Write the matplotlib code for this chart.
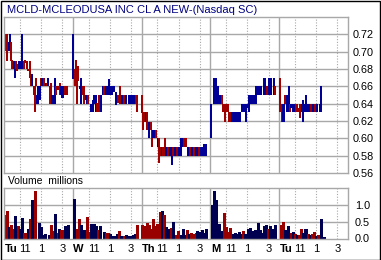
import matplotlib
matplotlib.use("Agg")
import matplotlib.pyplot as plt
import matplotlib.transforms as mtransforms
from matplotlib.patches import Rectangle

plt.rcParams['font.family'] = ['Liberation Sans', 'DejaVu Sans']

TITLE = "MCLD-MCLEODUSA INC CL A NEW-(Nasdaq SC)"

# time axis = trading hours since Tuesday open (6.5 h per day)
DAY_LEN = 6.5
DAYS = ["Tu", "W", "Th", "M", "Tu"]
HOUR_LABELS = ["11", "1", "3"]
HOUR_POS = [1.5, 3.5, 5.5]

# price bars: time, high, low, up (1 = blue, 0 = red)
p_time = [0.03, 0.13, 0.25, 0.32, 0.47, 0.57, 0.69, 0.79, 0.95, 1.04, 1.13, 1.26, 1.42, 1.58, 1.73,
          1.89, 1.98, 2.14, 2.27, 2.46, 2.58, 2.68, 2.84, 2.93, 3.06, 3.15, 3.25, 3.37, 3.47, 3.56,
          3.69, 3.78, 3.94, 4.03, 4.19, 4.32, 4.41, 4.51, 4.63, 4.73, 4.82, 4.95, 5.14, 5.26, 5.36,
          5.51, 5.61, 5.73, 5.83, 5.99,
          6.52, 6.71, 6.84, 6.93, 7.03, 7.18, 7.31, 7.47, 7.56, 7.72, 7.81, 7.97,
          8.21, 8.38, 8.54, 8.67, 8.82, 8.95, 9.08, 9.17, 9.39, 9.48, 9.61, 9.86, 9.96, 10.11,
          10.24, 10.40, 10.56, 10.81, 10.93, 11.06, 11.19, 11.38, 11.50, 11.82, 11.91, 12.07,
          12.16, 12.29, 12.45, 12.60,
          13.05, 13.11, 13.23, 13.39, 13.49, 13.64, 13.74, 13.86, 13.96, 14.12, 14.21, 14.37,
          14.53, 14.65, 14.75, 14.90, 15.00, 15.22, 15.31, 15.47, 15.60, 15.69, 15.85, 15.94,
          16.10, 16.20, 16.32, 16.57, 16.73, 16.89, 17.05, 17.21, 17.43, 17.58, 17.74, 17.90,
          17.99, 18.15, 18.31, 18.47, 18.62, 18.78, 18.94, 19.06,
          19.52, 19.60, 19.85, 20.04, 20.10, 20.26, 20.42, 20.58, 20.70, 20.86, 20.99, 21.14,
          21.30, 21.40, 21.52, 21.68, 21.84, 22.00, 22.12, 22.28, 22.47, 22.56, 22.72, 22.88,
          23.00, 23.13, 23.29, 23.41, 23.57, 23.70, 23.82, 23.98, 24.14, 24.29, 24.55, 24.70,
          24.86, 25.02, 25.24, 25.49, 25.59,
          26.05, 26.12, 26.25, 26.34, 26.50, 26.59, 26.72, 26.88, 27.03, 27.13, 27.29, 27.44,
          27.54, 27.66, 27.82, 27.92, 28.01, 28.14, 28.23, 28.39, 28.49, 28.64, 28.77, 28.86,
          29.02, 29.18, 29.34, 29.49, 29.59, 29.81, 29.97]
p_high = [0.740, 0.7205, 0.7205, 0.701, 0.711, 0.7205, 0.711, 0.690, 0.689, 0.689, 0.689, 0.6855, 0.689, 0.689, 0.7205,
          0.689, 0.690, 0.689, 0.680, 0.689, 0.670, 0.674, 0.660, 0.660, 0.670, 0.6505, 0.660, 0.660, 0.670, 0.670,
          0.670, 0.670, 0.664, 0.664, 0.670, 0.660, 0.664, 0.6505, 0.6505, 0.6505, 0.670, 0.660, 0.660, 0.664, 0.660,
          0.660, 0.660, 0.660, 0.660, 0.660,
          0.7205, 0.680, 0.690, 0.680, 0.6836, 0.660, 0.670, 0.660, 0.660, 0.6505, 0.6505, 0.6505,
          0.640, 0.6447, 0.6505, 0.6505, 0.641, 0.6505, 0.640, 0.6505, 0.660, 0.660, 0.660, 0.660, 0.669, 0.660,
          0.660, 0.660, 0.654, 0.6505, 0.660, 0.6505, 0.6505, 0.6505, 0.6505, 0.6505, 0.6505, 0.6505,
          0.6505, 0.6505, 0.6505, 0.6505,
          0.6505, 0.630, 0.630, 0.630, 0.630, 0.619, 0.619, 0.619, 0.610, 0.610, 0.610, 0.610,
          0.600, 0.600, 0.590, 0.590, 0.590, 0.600, 0.590, 0.590, 0.590, 0.590, 0.590, 0.590,
          0.590, 0.590, 0.590, 0.590, 0.600, 0.600, 0.600, 0.600, 0.590, 0.590, 0.590, 0.590,
          0.590, 0.590, 0.590, 0.590, 0.590, 0.590, 0.594, 0.594,
          0.640, 0.640, 0.670, 0.670, 0.6505, 0.660, 0.6505, 0.6505, 0.640, 0.640, 0.640, 0.640,
          0.630, 0.630, 0.630, 0.630, 0.630, 0.630, 0.630, 0.630, 0.640, 0.640, 0.640, 0.640,
          0.640, 0.6505, 0.6505, 0.6505, 0.6505, 0.6505, 0.660, 0.660, 0.660, 0.660, 0.670, 0.670,
          0.660, 0.670, 0.670, 0.670, 0.660,
          0.670, 0.6505, 0.640, 0.640, 0.640, 0.6505, 0.6505, 0.660, 0.640, 0.640, 0.640, 0.640,
          0.640, 0.640, 0.635, 0.640, 0.635, 0.640, 0.6447, 0.640, 0.6505, 0.640, 0.640, 0.640,
          0.640, 0.640, 0.640, 0.635, 0.640, 0.640, 0.660]
p_low = [0.7205, 0.701, 0.689, 0.689, 0.701, 0.701, 0.689, 0.680, 0.680, 0.670, 0.680, 0.678, 0.680, 0.680, 0.680,
         0.680, 0.6875, 0.680, 0.678, 0.670, 0.660, 0.660, 0.6505, 0.630, 0.660, 0.640, 0.640, 0.6447, 0.660, 0.660,
         0.660, 0.660, 0.660, 0.660, 0.660, 0.640, 0.640, 0.640, 0.640, 0.640, 0.640, 0.6505, 0.656, 0.6505, 0.6505,
         0.6466, 0.6466, 0.6505, 0.6505, 0.6505,
         0.669, 0.660, 0.678, 0.640, 0.666, 0.6575, 0.640, 0.6505, 0.640, 0.6447, 0.640, 0.640,
         0.630, 0.630, 0.640, 0.630, 0.630, 0.630, 0.630, 0.630, 0.6505, 0.6505, 0.6505, 0.6505, 0.6505, 0.6505,
         0.6505, 0.654, 0.639, 0.641, 0.640, 0.640, 0.640, 0.640, 0.640, 0.640, 0.640, 0.640,
         0.640, 0.640, 0.640, 0.630,
         0.629, 0.610, 0.619, 0.619, 0.610, 0.610, 0.600, 0.610, 0.590, 0.600, 0.600, 0.600,
         0.590, 0.571, 0.580, 0.580, 0.580, 0.580, 0.580, 0.580, 0.580, 0.580, 0.569, 0.580,
         0.580, 0.580, 0.580, 0.580, 0.580, 0.590, 0.590, 0.590, 0.580, 0.580, 0.580, 0.580,
         0.580, 0.580, 0.580, 0.580, 0.580, 0.580, 0.580, 0.580,
         0.600, 0.619, 0.640, 0.640, 0.640, 0.640, 0.640, 0.640, 0.630, 0.619, 0.630, 0.630,
         0.619, 0.619, 0.619, 0.619, 0.619, 0.619, 0.619, 0.619, 0.630, 0.630, 0.630, 0.619,
         0.635, 0.630, 0.640, 0.640, 0.640, 0.640, 0.640, 0.6505, 0.6505, 0.6505, 0.6505, 0.6505,
         0.6505, 0.6505, 0.6505, 0.6505, 0.6505,
         0.640, 0.630, 0.619, 0.619, 0.619, 0.640, 0.630, 0.630, 0.630, 0.635, 0.630, 0.630,
         0.630, 0.630, 0.630, 0.623, 0.630, 0.630, 0.619, 0.630, 0.630, 0.630, 0.630, 0.630,
         0.630, 0.630, 0.630, 0.630, 0.630, 0.630, 0.630]
p_up = [0, 0, 0, 0, 1, 1, 0, 0, 1, 1, 0, 0, 1, 1, 1,
        0, 0, 0, 0, 0, 0, 1, 0, 0, 0, 1, 1, 1, 0, 1,
        1, 0, 1, 0, 1, 0, 0, 1, 1, 1, 1, 0, 0, 0, 1,
        1, 1, 0, 0, 0,
        1, 0, 0, 0, 0, 1, 1, 0, 0, 1, 1, 0,
        1, 1, 1, 1, 0, 0, 0, 1, 1, 0, 1, 1, 1, 1,
        1, 1, 1, 0, 0, 0, 1, 0, 1, 1, 1, 1,
        1, 1, 0, 0,
        0, 0, 0, 1, 0, 0, 1, 0, 0, 1, 1, 0,
        1, 0, 0, 1, 0, 0, 1, 0, 0, 1, 1, 0,
        0, 1, 0, 1, 1, 1, 0, 0, 1, 0, 1, 1,
        0, 1, 1, 0, 1, 1, 1, 1,
        1, 1, 1, 1, 1, 1, 1, 0, 0, 0, 0, 0,
        0, 0, 1, 1, 1, 1, 1, 1, 1, 1, 1, 1,
        1, 1, 1, 1, 1, 1, 1, 1, 1, 1, 1, 1,
        0, 1, 1, 1, 0,
        0, 0, 0, 1, 1, 0, 1, 1, 0, 1, 1, 1,
        0, 0, 0, 0, 0, 1, 1, 1, 1, 1, 0, 1,
        0, 1, 0, 0, 1, 1, 1]

# volume bars (millions)
v_time = [0.09, 0.28, 0.47, 0.66, 0.89, 1.07, 1.30, 1.52, 1.71, 1.93, 2.09, 2.31, 2.50, 2.69, 2.94,
          3.29, 3.45, 3.73, 3.89, 4.21, 4.40, 4.65, 4.84, 5.06, 5.22, 5.38, 5.57, 5.72, 6.07,
          6.58, 6.86, 7.05, 7.31, 7.53, 7.81, 8.00, 8.25, 8.48, 8.70, 8.89, 9.11, 9.49, 9.68,
          9.83, 10.02, 10.21, 10.40, 10.63, 10.85, 11.07, 11.35, 11.48, 11.67, 11.83, 12.02,
          12.18, 12.37, 12.59,
          13.06, 13.22, 13.47, 13.66, 13.88, 14.07, 14.23, 14.48, 14.71, 14.93, 15.08, 15.34,
          15.59, 15.78, 15.94, 16.22, 16.41, 16.70, 16.92, 17.14, 17.33, 17.52, 17.65, 17.90,
          18.12, 18.28, 18.50, 18.69, 18.91, 19.07,
          19.61, 19.80, 20.02, 20.34, 20.56, 20.81, 21.00, 21.22, 21.38, 21.63, 21.79, 22.01,
          22.17, 22.33, 22.62, 22.80, 23.03, 23.22, 23.41, 23.60, 23.75, 23.98, 24.20, 24.35,
          24.54, 24.77, 24.92, 25.11, 25.33, 25.56,
          26.13, 26.32, 26.51, 26.70, 26.85, 27.07, 27.26, 27.45, 27.64, 27.83, 28.02, 28.21,
          28.40, 28.56, 28.75, 28.91, 29.10, 29.29, 29.51, 29.70, 29.98, 30.21]
v_vol = [0.70, 0.82, 0.35, 0.40, 0.28, 0.67, 0.38, 0.28, 0.62, 0.17, 0.15, 0.28, 0.58, 1.13, 1.40,
         0.47, 0.35, 0.10, 0.13, 0.10, 0.40, 0.23, 0.73, 0.15, 0.28, 0.25, 0.25, 0.38, 0.40,
         1.18, 0.29, 0.58, 0.40, 0.25, 0.63, 0.20, 0.42, 0.42, 0.38, 0.25, 0.38, 0.18, 0.15,
         0.16, 0.13, 0.07, 0.08, 0.13, 0.23, 0.06, 0.08, 0.10, 0.07, 0.07, 0.07,
         0.10, 0.12, 0.40,
         0.40, 0.37, 0.47, 0.40, 0.28, 0.57, 0.38, 0.43, 0.78, 0.82, 0.70, 0.35,
         0.27, 0.30, 0.50, 0.10, 0.23, 0.10, 0.28, 0.10, 0.25, 0.13, 0.15, 0.13,
         0.15, 0.23, 0.20, 0.25, 0.15, 0.28,
         1.00, 1.40, 1.15, 0.43, 0.23, 0.77, 0.35, 0.18, 0.30, 0.13, 0.15, 0.13,
         0.20, 0.12, 0.22, 0.13, 0.27, 0.30, 0.22, 0.13, 0.25, 0.47, 0.25, 0.15,
         0.37, 0.40, 0.28, 0.37, 0.28, 0.40,
         0.40, 0.50, 0.25, 0.20, 0.37, 0.15, 0.20, 0.12, 0.10, 0.10, 0.28, 0.17,
         0.27, 0.28, 0.13, 0.10, 0.12, 0.20, 0.08, 0.10, 0.58, 0.05]
v_up = [0, 0, 1, 0, 0, 1, 0, 1, 1, 0, 0, 1, 0, 1, 0,
        1, 1, 1, 1, 1, 0, 0, 1, 0, 1, 0, 0, 1, 1,
        1, 0, 0, 1, 1, 0, 0, 1, 1, 1, 0, 1, 1, 0,
        0, 1, 1, 1, 1, 0, 1, 0, 1, 1, 1, 1,
        1, 1, 0,
        0, 0, 0, 0, 0, 0, 0, 0, 0, 1, 0, 1,
        1, 0, 1, 0, 0, 1, 1, 1, 0, 1, 0, 0,
        0, 1, 1, 1, 1, 1,
        1, 1, 1, 1, 1, 0, 0, 0, 0, 1, 1, 1,
        1, 1, 0, 1, 1, 1, 1, 1, 1, 1, 1, 1,
        1, 1, 0, 1, 1, 1,
        0, 0, 1, 1, 1, 0, 1, 0, 1, 0, 0, 1,
        1, 1, 0, 1, 0, 0, 1, 0, 1, 1]

RED = '#a00000'
BLUE = '#000096'
VBLUE = '#000050'
VRED = '#990000'
GRID = '#a8a8a8'

W, H = 381, 260
fig = plt.figure(figsize=(W / 100, H / 100), dpi=100)
ax = fig.add_axes([4 / W, 1 - 173 / H, 344 / W, 156 / H])
axv = fig.add_axes([4 / W, 1 - 238.5 / H, 344 / W, 50.5 / H])

ndays = len(DAYS)
for a in (ax, axv):
    a.set_xlim(0, ndays * DAY_LEN)
    a.set_xticks([])
    for d in range(1, ndays):
        a.axvline(d * DAY_LEN, color=GRID, lw=1.0, zorder=0)
    for d in range(ndays):
        for h in HOUR_POS:
            a.axvline(d * DAY_LEN + h, color=GRID, lw=0.8, ls=(0, (1, 1.5)), zorder=0)
    for s in a.spines.values():
        s.set_color(GRID)
        s.set_linewidth(1.0)
    a.yaxis.tick_right()
    a.tick_params(axis='y', length=0, labelsize=7.8, pad=3)

# price panel
ax.set_ylim(0.56, 0.74)
price_ticks = [0.56, 0.58, 0.60, 0.62, 0.64, 0.66, 0.68, 0.70, 0.72]
ax.set_yticks(price_ticks)
ax.set_yticklabels(["%.2f" % v for v in price_ticks])
for v in price_ticks[1:]:
    ax.axhline(v, color=GRID, lw=1.0, zorder=0)
cols = [BLUE if u else RED for u in p_up]
ax.vlines(p_time, p_low, p_high, colors=cols, lw=1.1, zorder=2, antialiased=False)

# volume panel
axv.set_ylim(0, 1.5)
vol_ticks = [0.0, 0.5, 1.0]
axv.set_yticks(vol_ticks)
axv.set_yticklabels(["%.1f" % v for v in vol_ticks])
axv.tick_params(axis='y', pad=5)
for v in vol_ticks[1:]:
    axv.axhline(v, color=GRID, lw=1.0, zorder=0)
vcols = [VBLUE if u else VRED for u in v_up]
axv.vlines(v_time, 0, v_vol, colors=vcols, lw=0.8, zorder=2, antialiased=False)

# bottom time labels
trans = mtransforms.blended_transform_factory(axv.transData, axv.transAxes)
for d, name in enumerate(DAYS):
    x0 = d * DAY_LEN
    axv.text(x0 + 0.05, -0.21, name, transform=trans, ha='left', va='center',
             fontsize=8, fontweight='bold')
    axv.text(x0 + 1.95, -0.21, HOUR_LABELS[0], transform=trans, ha='center',
             va='center', fontsize=8)
    for lab, h in zip(HOUR_LABELS[1:], HOUR_POS[1:]):
        axv.text(x0 + h, -0.21, lab, transform=trans, ha='center', va='center', fontsize=8)

fig.text(7 / W, 1 - 10 / H, TITLE, color='#000080', fontsize=8, va='center', ha='left')
fig.text(8 / W, 1 - 181 / H, "Volume  millions", color='black', fontsize=7.5,
         va='center', ha='left')

fig.patches.append(Rectangle((0.5 / W, 0.5 / H), 1 - 1.5 / W, 1 - 1.5 / H,
                             transform=fig.transFigure, fill=False, ec='black', lw=1.0))

fig.savefig("out.png", dpi=100)
